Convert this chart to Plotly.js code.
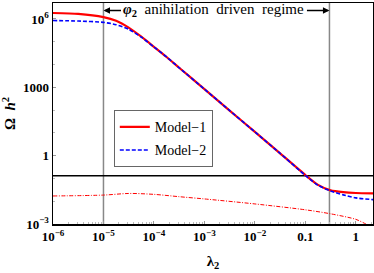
<!DOCTYPE html>
<html>
<head>
<meta charset="utf-8">
<script src="https://cdn.plot.ly/plotly-3.0.1.min.js"></script>
<style>html,body{margin:0;padding:0;background:#fff;}#chart{width:374px;height:273px;}</style>
</head>
<body>
<div id="chart"></div>
<script>
// lambda_2 values (x) for the relic density curves
const lambda2 = [1e-6, 3.16e-6, 1e-5, 1.78e-5, 3.16e-5, 5.62e-5, 1e-4, 1.78e-4, 3.16e-4, 1e-3, 3.16e-3, 1e-2, 3.16e-2, 0.1, 0.178, 0.316, 0.562, 1, 2.2];
// Omega h^2 for Model-1 (red solid)
const model1 = [1.82e6, 1.66e6, 1.20e6, 8.3e5, 4.17e5, 1.66e5, 6.0e4, 2.14e4, 7.2e3, 832, 95.5, 11.0, 1.26, 0.141, 0.052, 0.030, 0.025, 0.023, 0.022];
// Omega h^2 for Model-2 (blue dashed)
const model2 = [8.5e5, 8.1e5, 7.1e5, 5.6e5, 3.55e5, 1.58e5, 5.9e4, 2.14e4, 7.2e3, 832, 95.5, 11.0, 1.26, 0.135, 0.050, 0.028, 0.019, 0.014, 0.0117];
// lower red dash-dot curve
const lowerLambda = [1e-6, 1e-5, 3.16e-5, 1e-4, 3.16e-4, 1e-3, 1e-2, 0.1, 0.316, 1, 1.58, 2.2];
const lowerModel1 = [0.017, 0.0186, 0.0219, 0.020, 0.0158, 0.0126, 0.0076, 0.0042, 0.0028, 0.0016, 0.001, 0.0007];
// reference lines
const vLines = [1e-5, 0.3];
const omegaObs = 0.13;
const xTickVals = [1e-6, 1e-5, 1e-4, 1e-3, 1e-2, 0.1, 1];
const xTickText = ['<b>10<sup>−6</sup></b>', '<b>10<sup>−5</sup></b>', '<b>10<sup>−4</sup></b>', '<b>10<sup>−3</sup></b>', '<b>10<sup>−2</sup></b>', '<b>0.1</b>', '<b>1</b>'];
const yTickVals = [1e-3, 1, 1000, 1e6];
const yTickText = ['<b>10<sup>−3</sup></b>', '<b>1</b>', '<b>1000</b>', '<b>10<sup>6</sup></b>'];
const NB = '\u00a0\u00a0';
const annotText = '<b><i>φ</i><sub>2</sub></b>' + NB + 'anihilation' + NB + 'driven' + NB + 'regime';
const xTitle = '<b>λ<sub>2</sub></b>';
const yTitle = '<b>Ω\u00a0\u00a0<i>h</i><sup>2</sup></b>';

const FONT = 'Liberation Serif';
const X_RANGE = [-6, 0.34];
const toPaper = v => (Math.log10(v) - X_RANGE[0]) / (X_RANGE[1] - X_RANGE[0]);

const traces = [];
vLines.forEach(v => traces.push({x: [v, v], y: [1e-4, 1e8], mode: 'lines', line: {color: '#888', width: 1.5}, showlegend: false, hoverinfo: 'skip'}));
traces.push({x: [1e-7, 10], y: [omegaObs, omegaObs], mode: 'lines', line: {color: '#000', width: 1.5}, showlegend: false, hoverinfo: 'skip'});
traces.push({x: lowerLambda, y: lowerModel1, mode: 'lines', line: {color: '#ff0000', width: 1, dash: '4px,1.5px,1px,1.5px', shape: 'spline', smoothing: 0.8}, showlegend: false});
traces.push({x: lambda2, y: model1, mode: 'lines', name: 'Model−1', legendgroup: 'm1', line: {color: '#ff0000', width: 2.2, shape: 'spline', smoothing: 0.6}});
traces.push({x: lambda2, y: model2, mode: 'lines', name: 'Model−2', legendgroup: 'm2', line: {color: '#0000ff', width: 1.6, dash: '4px,2px', shape: 'spline', smoothing: 0.6}});

const layout = {
  width: 374, height: 273,
  margin: {l: 53, r: 1, t: 3, b: 49},
  paper_bgcolor: '#fff', plot_bgcolor: '#fff',
  font: {family: FONT, size: 12, color: '#000'},
  showlegend: true,
  legend: {x: 0.19, y: 0.515, xanchor: 'left', yanchor: 'top', bgcolor: '#fff', bordercolor: '#666', borderwidth: 1, font: {family: FONT, size: 14}, tracegroupgap: 2, itemwidth: 30},
  xaxis: {
    type: 'log', range: X_RANGE, showgrid: false, zeroline: false,
    showline: true, linecolor: '#000', linewidth: 1.5, mirror: true,
    ticks: 'inside', ticklen: 3, tickcolor: '#999',
    tickvals: xTickVals, ticktext: xTickText, tickfont: {family: FONT, size: 13},
    minor: {ticks: 'inside', ticklen: 2, tickcolor: '#bbb', dtick: 'D1'},
    title: {text: xTitle, font: {family: FONT, size: 15}, standoff: 12}
  },
  yaxis: {
    type: 'log', range: [-3, 6.7], showgrid: false, zeroline: false,
    showline: true, linecolor: '#000', linewidth: 1.5, mirror: true,
    ticks: 'inside', ticklen: 3, tickcolor: '#999',
    tickvals: yTickVals, ticktext: yTickText, tickfont: {family: FONT, size: 13},
    minor: {ticks: 'inside', ticklen: 2, tickcolor: '#bbb', dtick: 1},
    title: {text: yTitle, font: {family: FONT, size: 15}, standoff: 6}
  },
  annotations: [
    {xref: 'paper', yref: 'paper', x: toPaper(vLines[0]), y: 0.966, axref: 'pixel', ayref: 'pixel', ax: 19, ay: 0, text: '', showarrow: true, arrowhead: 2, arrowsize: 1, arrowwidth: 1.3, arrowcolor: '#000', standoff: 0},
    {xref: 'paper', yref: 'paper', x: toPaper(vLines[1]), y: 0.966, axref: 'pixel', ayref: 'pixel', ax: -24, ay: 0, text: '', showarrow: true, arrowhead: 2, arrowsize: 1, arrowwidth: 1.3, arrowcolor: '#000', standoff: 0},
    {xref: 'paper', yref: 'paper', x: 0.503, y: 0.968, text: annotText, showarrow: false, font: {family: FONT, size: 15}, xanchor: 'center', yanchor: 'middle'}
  ]
};

Plotly.newPlot('chart', traces, layout, {displayModeBar: false, staticPlot: true});
</script>
</body>
</html>
